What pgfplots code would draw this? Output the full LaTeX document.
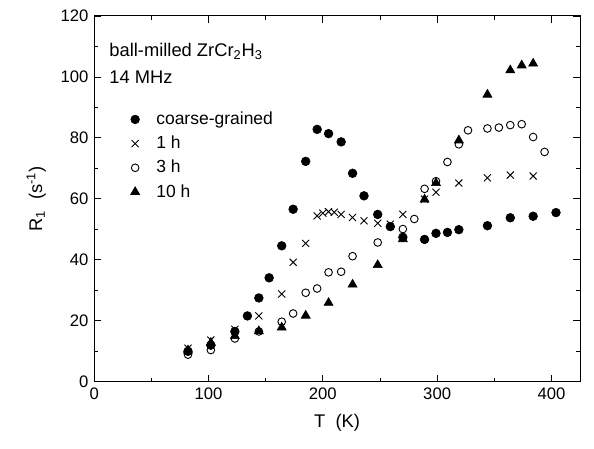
\documentclass[border=0pt]{standalone}
\usepackage{fontspec}
\setmainfont{Liberation Sans}
\usepackage{pgfplots}
\pgfplotsset{compat=1.18}

\begin{document}
\begin{tikzpicture}
\begin{axis}[
    name=ax,
    scale only axis,
    width=291.6pt, height=219.6pt,
    xmin=0, xmax=425, ymin=0, ymax=120,
    xtick={0,100,...,400}, ytick={0,20,...,120},
    minor xtick={50,150,...,350},
    minor ytick={10,30,...,110},
    tick align=inside,
    tick pos=both,
    xticklabel pos=lower, yticklabel pos=left,
    major tick length=4pt, minor tick length=2.5pt,
    tick style={black, line width=0.5pt},
    axis line style={line width=0.6pt},
    /pgf/number format/assume math mode=true,
    ticklabel style={font=\fontsize{10}{12}\selectfont},
    xlabel={T\ \ (K)}, ylabel={R\textsubscript{1}\ \ (s\textsuperscript{-1})},
    label style={font=\fontsize{11}{13}\selectfont},
    xlabel style={yshift=-2pt},
    ylabel style={yshift=2pt},
    legend cell align=left,
    legend style={draw=none, fill=none, at={(0.064,0.757)}, anchor=north west,
        font=\fontsize{10.5}{12}\selectfont, row sep=1.4pt,
        /tikz/every odd column/.append style={column sep=8pt}},
]
\addplot[only marks, mark=*, mark size=2.6pt, black] coordinates {
(82,10.0) (102,12.0) (123,16.5) (134,21.6) (144,27.5) (153,34.1) (164,44.6)
(174,56.6) (185,72.3) (195,82.8) (205,81.4) (216,78.7) (226,68.4) (236,61.0)
(248,54.9) (259,50.9) (270,47.4) (289,46.7) (299,48.7) (309,49.0) (319,49.9)
(344,51.2) (364,53.8) (384,54.3) (404,55.5)};
\addlegendentry{coarse-grained}
\addplot[only marks, mark=x, mark size=3pt, black, mark options={line width=0.55pt}] coordinates {
(82,11.0) (102,13.7) (123,17.2) (144,21.6) (164,28.8) (174,39.2) (185,45.4)
(195,54.4) (200,55.3) (205,55.8) (210,55.6) (216,54.9) (226,53.9) (236,52.8)
(248,52.0) (259,51.7) (270,54.9) (289,59.9) (299,62.2) (319,65.2) (344,66.9)
(364,67.8) (384,67.5)};
\addlegendentry{1 h}
\addplot[only marks, mark=o, mark size=2.3pt, black, mark options={line width=0.55pt}] coordinates {
(82,8.9) (102,10.4) (123,14.2) (144,16.5) (164,19.7) (174,22.4) (185,29.2)
(195,30.6) (205,35.9) (216,36.1) (226,41.2) (248,45.7) (270,50.1) (280,53.4)
(289,63.3) (299,65.8) (309,72.1) (319,77.9) (327,82.5) (344,83.1) (354,83.4)
(364,84.2) (374,84.5) (384,80.3) (394,75.4)};
\addlegendentry{3 h}
\addplot[only marks, mark=triangle*, mark size=3.1pt, black] coordinates {
(82,10.3) (102,12.8) (123,15.0) (144,16.6) (164,17.8) (185,21.7) (205,25.9)
(226,31.9) (248,38.3) (270,46.8) (289,59.8) (299,65.2) (319,79.2) (344,94.2)
(364,102.2) (374,103.8) (384,104.4)};
\addlegendentry{10 h}
\node[anchor=west, font=\fontsize{11}{13}\selectfont, inner sep=0pt] at (axis cs:13,108.3) {ball-milled ZrCr\textsubscript{2}H\textsubscript{3}};
\node[anchor=west, font=\fontsize{11}{13}\selectfont, inner sep=0pt] at (axis cs:13,100) {14 MHz};
\end{axis}
\path[use as bounding box] ([xshift=-56.6pt,yshift=-39.8pt]ax.south west) rectangle ([xshift=8.4pt,yshift=9.6pt]ax.north east);
\end{tikzpicture}
\end{document}
